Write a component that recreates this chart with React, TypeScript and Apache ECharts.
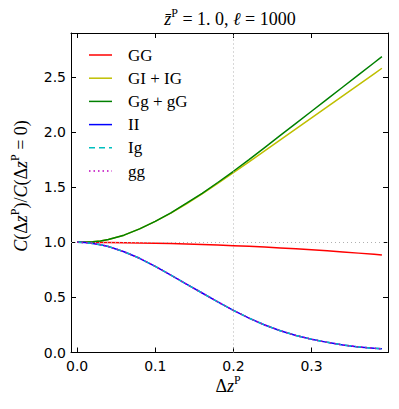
import React, { useEffect, useRef } from "react";
import * as echarts from "echarts";

const dz = [0, 0.01, 0.02, 0.03, 0.04, 0.06, 0.08, 0.1, 0.12, 0.14, 0.16, 0.18, 0.2, 0.22, 0.24, 0.26, 0.28, 0.3, 0.32, 0.34, 0.36, 0.38, 0.39];
const GG = [1.0, 1.0, 1.0, 0.9995, 0.999, 0.997, 0.995, 0.992, 0.989, 0.985, 0.981, 0.976, 0.97, 0.964, 0.957, 0.949, 0.941, 0.932, 0.923, 0.913, 0.902, 0.891, 0.885];
const GIIG = [1.0, 1.001, 1.005, 1.013, 1.026, 1.065, 1.122, 1.19, 1.265, 1.35, 1.44, 1.535, 1.632, 1.73, 1.83, 1.93, 2.03, 2.13, 2.23, 2.33, 2.43, 2.53, 2.58];
const GggG = [1.0, 1.001, 1.005, 1.013, 1.026, 1.065, 1.122, 1.19, 1.268, 1.355, 1.445, 1.543, 1.645, 1.75, 1.86, 1.97, 2.08, 2.19, 2.3, 2.41, 2.52, 2.63, 2.685];
const II = [1.0, 0.998, 0.99, 0.978, 0.962, 0.915, 0.855, 0.782, 0.702, 0.62, 0.54, 0.46, 0.382, 0.312, 0.25, 0.198, 0.155, 0.12, 0.092, 0.069, 0.051, 0.038, 0.033];
const Ig = II.slice();
const gg = II.slice();
const xTicks = [0, 0.1, 0.2, 0.3];
const yTicks = [0, 0.5, 1.0, 1.5, 2.0, 2.5];
const names = ["GG", "GI + IG", "Gg + gG", "II", "Ig", "gg"];
const seriesData = [GG, GIIG, GggG, II, Ig, gg];

const colors = ["#ff0000", "#bfbf00", "#008000", "#0000ff", "#00bfbf", "#bf00bf"];
const dashes: any[] = ["solid", "solid", "solid", "solid", [6, 4], [1.5, 3]];

const SERIF = "'Liberation Serif', 'DejaVu Serif', serif";
const SANS = "'DejaVu Sans', sans-serif";

export default function App() {
  const ref = useRef<HTMLDivElement>(null);
  useEffect(() => {
    const chart = echarts.init(ref.current!, null, { renderer: "svg" });
    const pts = (ys: number[]) => dz.map((x, i) => [x, ys[i]]);
    const rich = {
      n: { fontFamily: SERIF, fontSize: 18, color: "#000", lineHeight: 24 },
      it: { fontFamily: SERIF, fontSize: 18, fontStyle: "italic", color: "#000", lineHeight: 24 },
      sup: { fontFamily: SERIF, fontSize: 12, color: "#000", verticalAlign: "top", lineHeight: 24, padding: [0, 0, 7, 0] },
    };
    const series: any[] = names.map((name, i) => ({
      name,
      type: "line",
      data: pts(seriesData[i]),
      showSymbol: false,
      symbol: "none",
      z: 2 + i,
      lineStyle: { color: colors[i], width: 1.5, type: dashes[i] },
      itemStyle: { color: colors[i] },
    }));
    series[0].markLine = {
      silent: true,
      symbol: "none",
      label: { show: false },
      lineStyle: { color: "#b0b0b0", type: [1, 3], width: 1 },
      data: [{ xAxis: 0.2 }, { yAxis: 1.0 }],
    };
    const legendEls: any[] = [];
    names.forEach((name, i) => {
      const y = 55 + i * 23.2;
      legendEls.push({
        type: "line",
        shape: { x1: 89, y1: y, x2: 112, y2: y },
        style: { stroke: colors[i], lineWidth: 1.5, lineDash: dashes[i] === "solid" ? null : dashes[i] },
      });
      legendEls.push({
        type: "text",
        x: 128,
        y,
        style: { text: name, fontFamily: SERIF, fontSize: 17, fill: "#000", verticalAlign: "middle", align: "left" },
      });
    });
    const axisCommon = {
      type: "value",
      splitLine: { show: false },
      axisLine: { onZero: false, lineStyle: { color: "#000", width: 1 } },
    };
    chart.setOption({
      animation: false,
      grid: { left: 71, top: 33, right: 11, bottom: 56.5, show: false },
      xAxis: [
        {
          ...axisCommon,
          min: -0.0078,
          max: 0.3978,
          axisTick: { inside: true, length: 5, customValues: xTicks, lineStyle: { color: "#000" } },
          axisLabel: { customValues: xTicks, formatter: (v: number) => v.toFixed(1), fontFamily: SANS, fontSize: 14, color: "#000", margin: 6 },
        },
        {
          ...axisCommon,
          position: "top",
          min: -0.0078,
          max: 0.3978,
          axisTick: { inside: true, length: 5, customValues: xTicks, lineStyle: { color: "#000" } },
          axisLabel: { show: false },
        },
      ],
      yAxis: [
        {
          ...axisCommon,
          min: 0,
          max: 2.9,
          axisTick: { inside: true, length: 5, customValues: yTicks, lineStyle: { color: "#000" } },
          axisLabel: { customValues: yTicks, formatter: (v: number) => v.toFixed(1), fontFamily: SANS, fontSize: 14, color: "#000", margin: 5 },
        },
        {
          ...axisCommon,
          position: "right",
          min: 0,
          max: 2.9,
          axisTick: { inside: true, length: 5, customValues: yTicks, lineStyle: { color: "#000" } },
          axisLabel: { show: false },
        },
      ],
      graphic: [
        {
          type: "text",
          x: 230,
          y: 19,
          style: {
            text: "{it|z̄}{sup|P}{n| = 1. 0, }{it|ℓ}{n| = 1000}",
            rich,
            align: "center",
            verticalAlign: "middle",
          },
        },
        {
          type: "text",
          x: 228,
          y: 386,
          style: {
            text: "{n|Δ}{it|z}{sup|P}",
            rich,
            align: "center",
            verticalAlign: "middle",
          },
        },
        {
          type: "text",
          x: 21,
          y: 186,
          rotation: Math.PI / 2,
          style: {
            text: "{it|C}{n|(Δ}{it|z}{sup|P}{n|)/}{it|C}{n|(Δ}{it|z}{sup|P}{n| = 0)}",
            rich,
            align: "center",
            verticalAlign: "middle",
          },
        },
        ...legendEls,
      ],
      series,
    });
    return () => chart.dispose();
  }, []);
  return <div ref={ref} style={{ position: "fixed", left: 0, top: 0, width: 399, height: 409, background: "#fff" }} />;
}
